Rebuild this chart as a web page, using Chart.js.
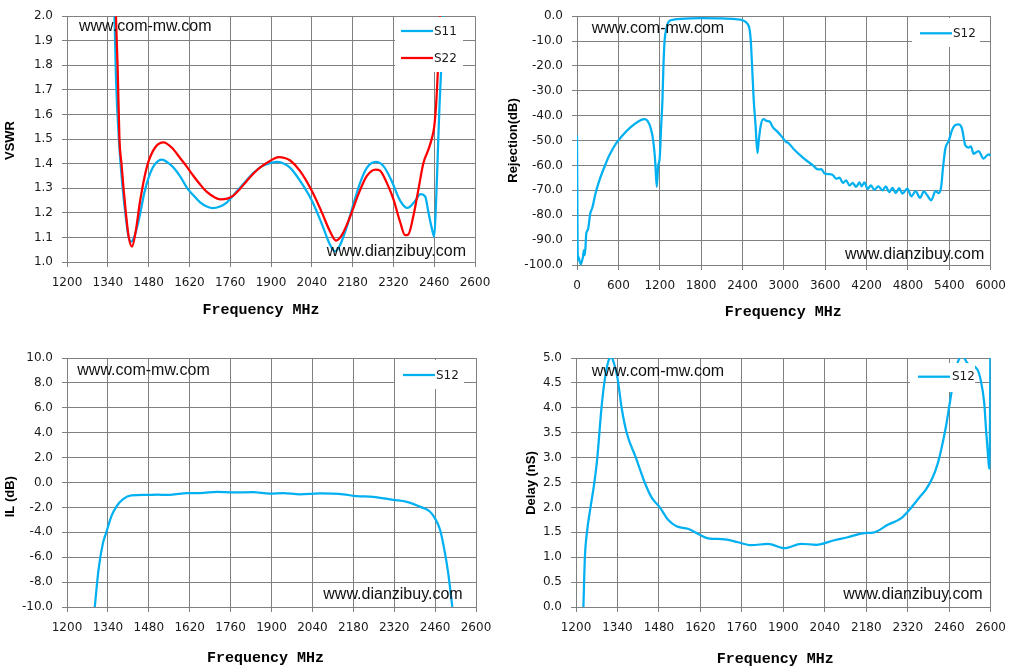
<!DOCTYPE html>
<html>
<head>
<meta charset="utf-8">
<script src="https://cdn.jsdelivr.net/npm/chart.js@4/dist/chart.umd.min.js"></script>
<style>
html,body{margin:0;padding:0;background:#fff;overflow:hidden;width:1015px;height:671px}
.panel{position:absolute}
canvas{display:block}
</style>
</head>
<body>
<div class="panel" style="left:0;top:0"><canvas id="c1" width="505" height="335"></canvas></div>
<div class="panel" style="left:505px;top:0"><canvas id="c2" width="510" height="335"></canvas></div>
<div class="panel" style="left:0;top:335px"><canvas id="c3" width="505" height="336"></canvas></div>
<div class="panel" style="left:505px;top:335px"><canvas id="c4" width="510" height="336"></canvas></div>
<script>
// ---------- DATA ----------
// Chart 1: VSWR
const s11Freq = [1357,1363,1368,1378,1391,1400,1410,1420,1430,1440,1451,1465,1480,1500,1526,1545,1566,1590,1611,1635,1657,1680,1700,1725,1749,1770,1794,1818,1840,1870,1900,1923,1945,1966,2000,2040,2074,2103,2120,2137,2160,2183,2206,2229,2260,2286,2314,2343,2368,2389,2414,2429,2440,2452,2460,2466,2472,2478,2483,2491,2497];
const s11Vswr = [2.4,2.0,1.75,1.5,1.3,1.2,1.11,1.083,1.10,1.14,1.196,1.28,1.343,1.395,1.417,1.405,1.383,1.345,1.303,1.27,1.243,1.226,1.219,1.226,1.243,1.27,1.303,1.335,1.363,1.39,1.403,1.407,1.40,1.383,1.33,1.25,1.156,1.069,1.043,1.069,1.143,1.236,1.323,1.383,1.407,1.39,1.33,1.25,1.22,1.24,1.276,1.267,1.203,1.136,1.103,1.23,1.43,1.63,1.76,2.0,2.3];
const s22Freq = [1362,1368,1374,1380,1387,1394,1402,1412,1423,1435,1451,1465,1480,1505,1531,1560,1588,1611,1634,1657,1680,1705,1726,1750,1771,1794,1817,1840,1863,1895,1926,1950,1966,2000,2040,2074,2103,2123,2143,2171,2200,2229,2259,2274,2297,2320,2343,2360,2371,2389,2406,2423,2440,2452,2460,2466,2472,2480,2486];
const s22Vswr = [2.3,2.0,1.78,1.5,1.4,1.3,1.2,1.1,1.063,1.12,1.249,1.34,1.41,1.47,1.487,1.465,1.423,1.388,1.35,1.315,1.285,1.264,1.255,1.258,1.27,1.298,1.33,1.36,1.385,1.41,1.427,1.422,1.413,1.37,1.29,1.203,1.123,1.087,1.109,1.183,1.276,1.35,1.376,1.372,1.323,1.256,1.163,1.109,1.112,1.19,1.296,1.403,1.457,1.503,1.55,1.63,1.764,2.0,2.3];

// Chart 2: Rejection
const rejFreq = [0,12,20,53,87,101,115,135,159,193,221,269,327,399,471,567,663,783,879,975,1023,1071,1105,1133,1157,1176,1201,1220,1239,1253,1270,1296,1335,1400,1500,1800,2100,2300,2400,2473,2501,2520,2540,2563,2588,2617,2636,2665,2703,2751,2799,2837,2895,2967,3030,3063,3159,3255,3351,3423,3495,3543,3591,3663,3711,3759,3807,3855,3903,3951,3999,4047,4095,4128,4167,4215,4263,4311,4369,4431,4479,4527,4575,4623,4671,4719,4791,4848,4911,4974,5031,5079,5137,5199,5247,5281,5309,5342,5391,5439,5487,5535,5583,5631,5679,5712,5751,5823,5895,5967,6000];
const rejS12 = [-48,-98,-96.7,-99.7,-96.7,-94,-96,-87.2,-85.8,-79.2,-77.1,-71.2,-65.8,-60.5,-55.8,-51.1,-47.8,-44.5,-42.5,-41.4,-42.1,-45.2,-49.9,-57.9,-68.6,-60.6,-56.5,-44.5,-33.8,-20.5,-10,-5,-2,-1.4,-1.1,-0.8,-0.9,-1.2,-1.6,-3.1,-5,-9.8,-20.5,-33.8,-43.2,-55,-49.9,-43.9,-41.4,-42.1,-42.5,-44.5,-46.1,-48.3,-50.5,-50.9,-53.9,-56.3,-58.5,-60,-61.6,-61.5,-63.2,-63.5,-63.9,-65.3,-64.9,-67,-66,-68,-67,-68.6,-66.8,-68.4,-66.8,-69.4,-68,-69.8,-68.4,-70,-68.4,-70.7,-69,-71.1,-69.1,-71.3,-69.3,-72.4,-70.3,-73,-70.4,-72,-74,-70.3,-71.1,-68.6,-60.6,-53.2,-50.1,-45.8,-43.7,-43.5,-45.2,-51.9,-52.8,-52.3,-55.3,-54.2,-57.2,-55.5,-56];

// Chart 3: Insertion loss
const ilFreq = [1295,1308,1323,1335,1352,1369,1392,1420,1472,1510,1540,1580,1609,1655,1712,1769,1837,1894,1940,1997,2066,2146,2191,2248,2317,2363,2414,2442,2460,2477,2494,2505,2519];
const ilS12 = [-10,-7,-4.87,-3.97,-2.7,-1.93,-1.34,-1.04,-1.0,-0.98,-1.0,-0.92,-0.85,-0.85,-0.75,-0.8,-0.78,-0.9,-0.85,-0.95,-0.88,-0.95,-1.1,-1.15,-1.4,-1.55,-2.0,-2.33,-2.9,-3.8,-5.7,-7.3,-10];

// Chart 4: Group delay
const dlyFreq = [1225,1230,1237,1249,1262,1272,1286,1298,1310,1318,1328,1340,1354,1371,1402,1432,1455,1483,1511,1539,1578,1618,1646,1702,1747,1792,1848,1904,1960,2011,2072,2117,2168,2207,2252,2297,2325,2359,2381,2403,2420,2435,2449,2460,2471,2488,2504,2521,2555,2566,2578,2585,2592,2595,2597,2599];
const dlyS12 = [0,1.0,1.5,2.0,2.5,3.0,4.0,4.6,4.95,5.02,4.9,4.6,4.0,3.5,3.0,2.5,2.2,2.0,1.75,1.62,1.57,1.45,1.38,1.36,1.3,1.24,1.27,1.18,1.27,1.25,1.34,1.40,1.48,1.5,1.65,1.78,1.95,2.2,2.355,2.59,2.86,3.22,3.63,4.03,4.43,4.9,5.05,4.9,4.77,4.56,4.1,3.49,2.96,2.78,3.2,5.6];

// Texts
const xTitle = 'Frequency MHz';
const wmTop = 'www.com-mw.com';
const wmBottom = 'www.dianzibuy.com';

// ---------- STYLE ----------
const GRID = '#808080';
const TXT = '#1a1a1a';
const CYAN = '#00B0F0';
const RED = '#FF0000';
const TICK_FONT = {family: '"DejaVu Sans", Verdana, sans-serif', size: 12};

function pts(xs, ys) {
  const n = Math.min(xs.length, ys.length);
  const out = [];
  for (let i = 0; i < n; i++) out.push({x: xs[i], y: ys[i]});
  return out;
}

const decor = {
  id: 'decor',
  afterDatasetsDraw(chart, args, o) {
    const ctx = chart.ctx;
    ctx.save();
    // watermarks
    ctx.fillStyle = '#111';
    ctx.font = '16px "Liberation Sans", Arial, sans-serif';
    ctx.textAlign = 'left';
    ctx.textBaseline = 'alphabetic';
    ctx.fillText(wmTop, o.wm1x, o.wm1y);
    ctx.fillText(wmBottom, o.wm2x, o.wm2y);
    // legend
    ctx.fillStyle = '#fff';
    ctx.fillRect(o.lgx, o.lgy, o.lgw, o.lgh);
    chart.data.datasets.forEach((ds, i) => {
      const y = o.rows[i];
      ctx.strokeStyle = ds.borderColor;
      ctx.lineWidth = 2.25;
      ctx.beginPath();
      ctx.moveTo(o.lx0, y);
      ctx.lineTo(o.lx1, y);
      ctx.stroke();
      ctx.fillStyle = TXT;
      ctx.font = '12px "DejaVu Sans", Verdana, sans-serif';
      ctx.textBaseline = 'middle';
      ctx.fillText(ds.label, o.tx, y + 0.5);
    });
    // axis titles
    ctx.fillStyle = '#000';
    ctx.textAlign = 'center';
    ctx.textBaseline = 'middle';
    ctx.font = 'bold 15px "Liberation Mono", "Courier New", monospace';
    ctx.fillText(xTitle, o.xtx, o.xty);
    ctx.font = 'bold 13px "Liberation Sans", Arial, sans-serif';
    ctx.translate(o.ytx, o.yty);
    ctx.rotate(-Math.PI / 2);
    ctx.fillText(o.yTitle, 0, 0);
    ctx.restore();
  }
};

function makeChart(id, c) {
  const datasets = c.series.map((s) => ({
    label: s.label,
    data: s.data,
    borderColor: s.color,
    backgroundColor: s.color,
    borderWidth: 2.25,
    pointRadius: 0,
    fill: false,
    cubicInterpolationMode: 'monotone',
    order: s.order
  }));
  return new Chart(document.getElementById(id), {
    type: 'line',
    data: {datasets},
    options: {
      responsive: false,
      animation: false,
      devicePixelRatio: 1,
      layout: {padding: {left: 0, top: c.top, right: c.W - c.right, bottom: 0}},
      plugins: {legend: {display: false}, tooltip: {enabled: false}, decor: c.decor},
      scales: {
        x: {
          type: 'linear', min: c.xmin, max: c.xmax,
          ticks: {stepSize: c.xstep, autoSkip: false, maxRotation: 0, font: TICK_FONT, color: TXT, padding: 9,
                  callback: v => String(Math.round(v))},
          grid: {color: GRID, lineWidth: 1, tickLength: 5, drawTicks: true},
          border: {color: GRID, width: 1},
          afterFit: s => { s.height = c.H - c.bottom; }
        },
        y: {
          type: 'linear', min: c.ymin, max: c.ymax,
          ticks: {stepSize: c.ystep, autoSkip: false, font: TICK_FONT, color: TXT, padding: 9,
                  callback: v => Number(v).toFixed(1)},
          grid: {color: GRID, lineWidth: 1, tickLength: 5, drawTicks: true},
          border: {color: GRID, width: 1},
          afterFit: s => { s.width = c.left; }
        }
      }
    },
    plugins: [decor]
  });
}

makeChart('c1', {
  W: 505, H: 335, left: 67, right: 475, top: 13, bottom: 262,
  xmin: 1200, xmax: 2600, xstep: 140, ymin: 1.0, ymax: 2.0, ystep: 0.1,
  series: [
    {label: 'S11', data: pts(s11Freq, s11Vswr), color: CYAN, order: 1},
    {label: 'S22', data: pts(s22Freq, s22Vswr), color: RED, order: 0}
  ],
  decor: {wm1x: 79, wm1y: 30.5, wm2x: 326.7, wm2y: 256,
          lgx: 395, lgy: 17, lgw: 68, lgh: 55, rows: [31, 58], lx0: 401, lx1: 433, tx: 434,
          xtx: 261, xty: 310, ytx: 10, yty: 140.5, yTitle: 'VSWR'}
});

makeChart('c2', {
  W: 510, H: 335, left: 72, right: 489, top: 16, bottom: 265,
  xmin: 0, xmax: 6000, xstep: 600, ymin: -100, ymax: 0, ystep: 10,
  series: [{label: 'S12', data: pts(rejFreq, rejS12), color: CYAN, order: 0}],
  decor: {wm1x: 86.7, wm1y: 33.3, wm2x: 340, wm2y: 259,
          lgx: 407, lgy: 18, lgw: 68, lgh: 29, rows: [33.3], lx0: 415, lx1: 447, tx: 448,
          xtx: 278.3, xty: 312.3, ytx: 8.5, yty: 140.5, yTitle: 'Rejection(dB)'}
});

makeChart('c3', {
  W: 505, H: 336, left: 67, right: 476, top: 23, bottom: 272,
  xmin: 1200, xmax: 2600, xstep: 140, ymin: -10, ymax: 10, ystep: 2,
  series: [{label: 'S12', data: pts(ilFreq, ilS12), color: CYAN, order: 0}],
  decor: {wm1x: 77.3, wm1y: 40, wm2x: 323.3, wm2y: 264,
          lgx: 395, lgy: 25, lgw: 69, lgh: 29, rows: [40], lx0: 403, lx1: 435, tx: 436,
          xtx: 265.5, xty: 323.3, ytx: 10.5, yty: 161.7, yTitle: 'IL (dB)'}
});

makeChart('c4', {
  W: 510, H: 336, left: 71, right: 487, top: 23, bottom: 272,
  xmin: 1200, xmax: 2600, xstep: 140, ymin: 0, ymax: 5, ystep: 0.5,
  series: [{label: 'S12', data: pts(dlyFreq, dlyS12), color: CYAN, order: 0}],
  decor: {wm1x: 86.7, wm1y: 41, wm2x: 338.3, wm2y: 264,
          lgx: 405, lgy: 28, lgw: 65, lgh: 29, rows: [41.7], lx0: 413, lx1: 445, tx: 447,
          xtx: 270.3, xty: 324.3, ytx: 26.2, yty: 148, yTitle: 'Delay (nS)'}
});
</script>
</body>
</html>
